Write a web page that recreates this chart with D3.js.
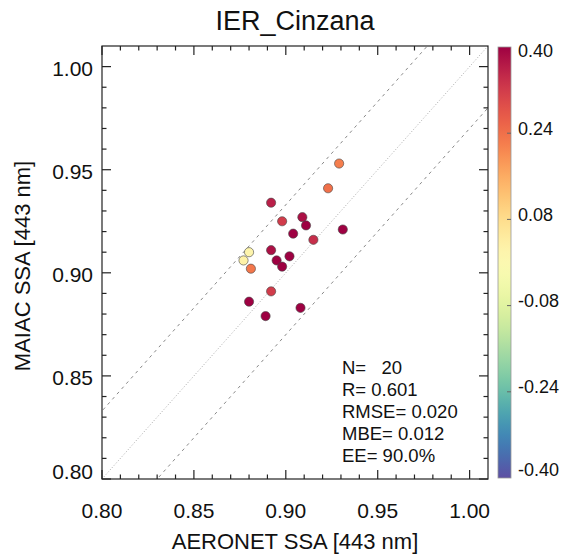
<!DOCTYPE html>
<html>
<head>
<meta charset="utf-8">
<script src="https://cdn.jsdelivr.net/npm/d3@7"></script>
<style>
  html, body { margin: 0; padding: 0; background: #fff; }
  svg { display: block; font-family: "Liberation Sans", Arial, sans-serif; }
</style>
</head>
<body>
<svg id="chart" width="569" height="554"></svg>
<script>
// ---- data ----
const title = "IER_Cinzana";
const xLabel = "AERONET SSA [443 nm]";
const yLabel = "MAIAC SSA [443 nm]";
const aeronetSSA = [0.929, 0.923, 0.892, 0.898, 0.909, 0.911, 0.904, 0.931, 0.915, 0.880,
                    0.877, 0.892, 0.895, 0.902, 0.898, 0.881, 0.892, 0.880, 0.908, 0.889];
const maiacSSA   = [0.953, 0.941, 0.934, 0.925, 0.927, 0.923, 0.919, 0.921, 0.916, 0.910,
                    0.906, 0.911, 0.906, 0.908, 0.903, 0.902, 0.891, 0.886, 0.883, 0.879];
const colorValue = [0.22, 0.24, 0.36, 0.32, 0.38, 0.40, 0.40, 0.40, 0.34, 0.02,
                    0.03, 0.38, 0.40, 0.40, 0.40, 0.23, 0.32, 0.40, 0.40, 0.40];
const axisTicks = [0.80, 0.85, 0.90, 0.95, 1.00];
const colorbarTicks = [0.40, 0.24, 0.08, -0.08, -0.24, -0.40];
const statLines = ["N=   20", "R= 0.601", "RMSE= 0.020", "MBE= 0.012", "EE= 90.0%"];
const eeOffset = [0.033, -0.03];

// ---- layout ----
const svg = d3.select("#chart");
const L = 102, R = 488, T = 46, B = 479;
const x = d3.scaleLinear().domain([0.80, 1.01]).range([L, R]);
const y = d3.scaleLinear().domain([0.80, 1.01]).range([B, T]);
const cScale = v => d3.interpolateSpectral((0.40 - Math.max(-0.4, Math.min(0.4, v))) / 0.80);

// clip
svg.append("clipPath").attr("id", "clip")
  .append("rect").attr("x", L).attr("y", T).attr("width", R - L).attr("height", B - T);

const plot = svg.append("g").attr("clip-path", "url(#clip)");

// 1:1 line
plot.append("line")
  .attr("x1", x(0.80)).attr("y1", y(0.80)).attr("x2", x(1.01)).attr("y2", y(1.01))
  .attr("stroke", "#aaa").attr("stroke-width", 1).attr("stroke-dasharray", "1,2");
// EE lines
eeOffset.forEach(o => {
  plot.append("line")
    .attr("x1", x(0.76)).attr("y1", y(0.76 + o)).attr("x2", x(1.05)).attr("y2", y(1.05 + o))
    .attr("stroke", "#888").attr("stroke-width", 1).attr("stroke-dasharray", "3,4");
});

// points
const pts = aeronetSSA.map((v, i) => ({ x: v, y: maiacSSA[i], c: colorValue[i] }));
plot.selectAll("circle.pt").data(pts).enter().append("circle")
  .attr("class", "pt")
  .attr("cx", d => x(d.x)).attr("cy", d => y(d.y)).attr("r", 4.6)
  .attr("fill", d => cScale(d.c))
  .attr("stroke", "#444").attr("stroke-width", 0.6);

// frame
svg.append("rect").attr("x", L).attr("y", T).attr("width", R - L).attr("height", B - T)
  .attr("fill", "none").attr("stroke", "#222").attr("stroke-width", 1.2);

// ticks (inward, all four sides)
const minor = d3.range(0, 21).map(i => 0.80 + i * 0.01).filter(v => v <= 1.0101);
const tg = svg.append("g").attr("stroke", "#222").attr("stroke-width", 1.2);
minor.forEach(v => {
  const isMajor = axisTicks.some(t => Math.abs(t - v) < 1e-6);
  const len = isMajor ? 9 : 4.5;
  tg.append("line").attr("x1", x(v)).attr("x2", x(v)).attr("y1", B).attr("y2", B - len);
  tg.append("line").attr("x1", x(v)).attr("x2", x(v)).attr("y1", T).attr("y2", T + len);
  tg.append("line").attr("y1", y(v)).attr("y2", y(v)).attr("x1", L).attr("x2", L + len);
  tg.append("line").attr("y1", y(v)).attr("y2", y(v)).attr("x1", R).attr("x2", R - len);
});

// tick labels
svg.append("g").selectAll("text").data(axisTicks).enter().append("text")
  .attr("x", d => x(d)).attr("y", 518).attr("text-anchor", "middle")
  .attr("font-size", 21).attr("fill", "#111").text(d => d.toFixed(2));
svg.append("g").selectAll("text").data(axisTicks).enter().append("text")
  .attr("x", 93).attr("y", (d, i) => y(d) + (i === 0 ? 0 : 9)).attr("text-anchor", "end")
  .attr("font-size", 21).attr("fill", "#111").text(d => d.toFixed(2));

// axis titles
svg.append("text").attr("x", (L + R) / 2).attr("y", 549).attr("text-anchor", "middle")
  .attr("font-size", 22).attr("fill", "#111").text(xLabel);
svg.append("text").attr("transform", "translate(30,266) rotate(-90)").attr("text-anchor", "middle")
  .attr("font-size", 22).attr("fill", "#111").text(yLabel);

// title
svg.append("text").attr("x", (L + R) / 2).attr("y", 30).attr("text-anchor", "middle")
  .attr("font-size", 27).attr("fill", "#111").text(title);

// stats
svg.append("g").selectAll("text").data(statLines).enter().append("text")
  .attr("x", 342).attr("y", (d, i) => 374 + i * 22)
  .attr("font-size", 18.5).attr("fill", "#111").attr("xml:space", "preserve")
  .style("white-space", "pre").text(d => d);

// colorbar
const cbX = 498, cbW = 13, cbT = 47, cbB = 478;
const cy = d3.scaleLinear().domain([-0.40, 0.40]).range([cbB, cbT]);
const grad = svg.append("defs").append("linearGradient").attr("id", "cbgrad")
  .attr("x1", 0).attr("y1", 1).attr("x2", 0).attr("y2", 0);
d3.range(0, 41).forEach(i => {
  const t = i / 40;
  grad.append("stop").attr("offset", t).attr("stop-color", cScale(-0.40 + 0.80 * t));
});
svg.append("rect").attr("x", cbX).attr("y", cbT).attr("width", cbW).attr("height", cbB - cbT)
  .attr("fill", "url(#cbgrad)").attr("stroke", "#999").attr("stroke-width", 0.8);
colorbarTicks.forEach(v => {
  if (Math.abs(v) < 0.39) {
    svg.append("line").attr("x1", cbX + cbW - 4).attr("x2", cbX + cbW).attr("y1", cy(v)).attr("y2", cy(v))
      .attr("stroke", "#666").attr("stroke-width", 1);
  }
});
svg.append("g").selectAll("text").data(colorbarTicks).enter().append("text")
  .attr("x", 518)
  .attr("y", d => {
    let yy = cy(d);
    if (d > 0.39) yy = cbT + 8;
    if (d < -0.39) yy = cbB - 4;
    return yy + 1.5;
  })
  .attr("font-size", 18).attr("fill", "#111").text(d => d.toFixed(2));
</script>
</body>
</html>
